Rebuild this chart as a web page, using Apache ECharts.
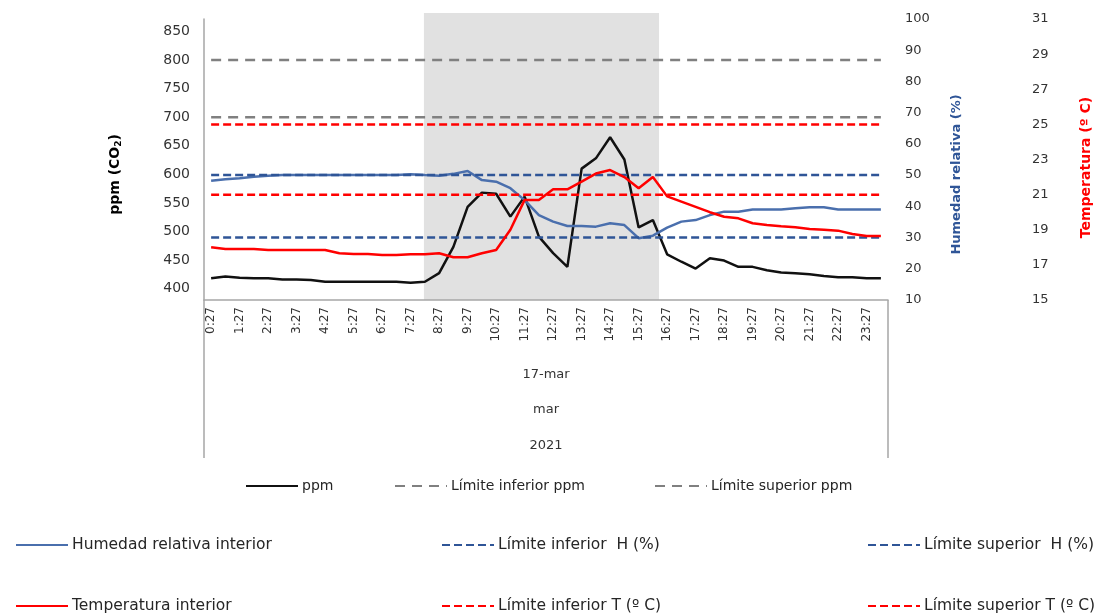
<!DOCTYPE html>
<html>
<head>
<meta charset="utf-8">
<script src="https://cdn.jsdelivr.net/npm/echarts@6/dist/echarts.min.js"></script>
<style>
  html, body { margin: 0; padding: 0; background: #ffffff; }
  #chart { width: 1105px; height: 613px; }
</style>
</head>
<body>
<div id="chart"></div>
<script>
// Registro del 17 de marzo de 2021, lecturas cada 30 minutos
const categorias = ['0:27','0:57','1:27','1:57','2:27','2:57','3:27','3:57','4:27','4:57','5:27','5:57',
  '6:27','6:57','7:27','7:57','8:27','8:57','9:27','9:57','10:27','10:57','11:27','11:57',
  '12:27','12:57','13:27','13:57','14:27','14:57','15:27','15:57','16:27','16:57','17:27','17:57',
  '18:27','18:57','19:27','19:57','20:27','20:57','21:27','21:57','22:27','22:57','23:27','23:57'];

const niveles = ['17-mar', 'mar', '2021'];

// CO2 (ppm)
const ppm = [418,421,419,418,418,416,416,415,412,412,412,412,412,412,410,412,
  427,473,543,568,566,526,561,491,462,438,610,628,665,626,507,520,
  460,447,435,453,449,438,438,432,428,427,425,422,420,420,418,418];

// Humedad relativa interior (%)
const humedad = [48.2,48.7,49.0,49.5,49.8,50.0,50.0,50.0,50.0,50.0,50.0,50.0,50.0,50.0,50.3,50.0,
  49.8,50.4,51.3,48.4,47.9,45.8,42.0,37.2,35.1,33.7,33.7,33.5,34.6,34.0,29.8,30.6,
  33.2,35.1,35.6,37.2,38.3,38.3,39.0,39.0,39.0,39.4,39.7,39.7,39.0,39.0,39.0,39.0];

// Temperatura interior (ºC)
const temperatura = [18.0,17.9,17.9,17.9,17.85,17.85,17.85,17.85,17.85,17.66,17.62,17.62,17.56,17.56,17.6,17.6,
  17.66,17.43,17.43,17.66,17.85,19.0,20.7,20.7,21.3,21.3,21.74,22.2,22.4,22.0,21.36,22.0,
  20.9,20.6,20.3,20.0,19.74,19.65,19.37,19.27,19.2,19.14,19.04,19.0,18.95,18.76,18.64,18.64];

// Límites de confort
const limitesPpm = [700, 800];
const limitesHumedad = [30, 50];
const limitesTemperatura = [21, 25];

// Franja horaria sombreada
const franja = ['7:55', '16:10'];

// Escalas de los ejes
const ejePpm = { min: 380, max: 872, paso: 10, etiqueta: 50, desde: 400, hasta: 850 };
const ejeHumedad = { min: 10, max: 100, paso: 10 };
const ejeTemperatura = { min: 15, max: 31, paso: 2 };

const fuente = 'DejaVu Sans';
const horas = s => { const p = s.split(':'); return Number(p[0]) + Number(p[1]) / 60; };
const constante = v => categorias.map(() => v);
const mediaFranja = 0.25;

const gris = '#A6A6A6';

function nivel(texto, margen, conCaja) {
  return {
    type: 'category', gridIndex: 0, position: 'bottom', data: [texto],
    boundaryGap: true,
    axisLine: { show: false },
    axisTick: { show: !!conCaja, length: 158, lineStyle: { color: gris, width: 1.5 } },
    axisLabel: { margin: margen, fontSize: 13, color: '#333', fontFamily: fuente },
    splitLine: { show: false }
  };
}

function linea(nombre, datos, eje, color, ancho, guiones) {
  return {
    name: nombre, type: 'line', xAxisIndex: 0, yAxisIndex: eje, data: datos,
    symbol: 'none', silent: true, z: 3,
    lineStyle: { color: color, width: ancho, type: guiones || 'solid' },
    itemStyle: { color: color }
  };
}

function leyenda(nombre, x, y, tam) {
  return {
    data: [nombre], left: x, top: y - 8, padding: 0, itemWidth: 52, itemHeight: 14, itemGap: 0,
    selectedMode: false,
    itemStyle: { opacity: 0 },
    textStyle: { fontSize: tam, color: '#262626', fontFamily: fuente, padding: [0, 0, 0, -1] }
  };
}

const chart = echarts.init(document.getElementById('chart'), null, { renderer: 'canvas' });

chart.setOption({
  animation: false,
  backgroundColor: '#ffffff',
  textStyle: { fontFamily: fuente },
  grid: [
    { left: 204, right: 217, top: 19, bottom: 313 },
    { left: 204, right: 217, top: 13, bottom: 313 }
  ],
  xAxis: [
    {
      type: 'category', gridIndex: 0, data: categorias, boundaryGap: true,
      axisLine: { lineStyle: { color: gris, width: 1.5 } },
      axisTick: { show: false },
      axisLabel: { interval: 1, rotate: 90, margin: 7, fontSize: 12, color: '#333', fontFamily: fuente },
      splitLine: { show: false }
    },
    nivel(niveles[0], 68),
    nivel(niveles[1], 103),
    nivel(niveles[2], 139, true),
    {
      type: 'value', gridIndex: 1, show: false,
      min: horas(categorias[0]) - mediaFranja,
      max: horas(categorias[categorias.length - 1]) + mediaFranja
    }
  ],
  yAxis: [
    {
      type: 'value', gridIndex: 0, position: 'left',
      min: ejePpm.min, max: ejePpm.max, interval: ejePpm.paso,
      axisLine: { show: true, lineStyle: { color: gris, width: 1.5 } },
      axisTick: { show: false }, splitLine: { show: false },
      axisLabel: {
        fontSize: 14, color: '#333', margin: 14, fontFamily: fuente,
        formatter: v => (v % ejePpm.etiqueta === 0 && v >= ejePpm.desde && v <= ejePpm.hasta) ? String(v) : ''
      },
      name: 'ppm (CO{sub|2})', nameLocation: 'middle', nameGap: 81,
      nameTextStyle: {
        color: '#000', fontWeight: 'bold', fontSize: 14, fontFamily: fuente, padding: [0, 30, 0, 0],
        rich: { sub: { fontSize: 9, fontWeight: 'bold', color: '#000', fontFamily: fuente, verticalAlign: 'bottom', padding: [6, 0, 0, 0] } }
      }
    },
    {
      type: 'value', gridIndex: 0, position: 'right',
      min: ejeHumedad.min, max: ejeHumedad.max, interval: ejeHumedad.paso,
      axisLine: { show: false }, axisTick: { show: false }, splitLine: { show: false },
      axisLabel: { fontSize: 13, color: '#333', margin: 17, fontFamily: fuente },
      name: 'Humedad relativa (%)', nameLocation: 'middle', nameGap: 62,
      nameTextStyle: { color: '#2F5597', fontWeight: 'bold', fontSize: 13, fontFamily: fuente, padding: [0, 30, 0, 0] }
    },
    {
      type: 'value', gridIndex: 0, position: 'right', offset: 127,
      min: ejeTemperatura.min, max: ejeTemperatura.max, interval: ejeTemperatura.paso,
      axisLine: { show: false }, axisTick: { show: false }, splitLine: { show: false },
      axisLabel: { fontSize: 13, color: '#333', margin: 17, fontFamily: fuente },
      name: 'Temperatura (º C)', nameLocation: 'middle', nameGap: 64,
      nameTextStyle: { color: '#FF0000', fontWeight: 'bold', fontSize: 14, fontFamily: fuente, padding: [0, 16, 0, 0] }
    },
    { type: 'value', gridIndex: 1, min: 0, max: 1, show: false }
  ],
  legend: [
    leyenda('ppm', 245, 487, 14),
    leyenda('Límite inferior ppm', 394, 487, 14),
    leyenda('Límite superior ppm', 654, 487, 14),
    leyenda('Humedad relativa interior', 15, 545, 15.5),
    leyenda('Límite inferior  H (%)', 441, 545, 15.5),
    leyenda('Límite superior  H (%)', 867, 545, 15.5),
    leyenda('Temperatura interior', 15, 606, 15.5),
    leyenda('Límite inferior T (º C)', 441, 606, 15.5),
    leyenda('Límite superior T (º C)', 867, 606, 15.5)
  ],
  series: [
    {
      name: 'franja', type: 'line', xAxisIndex: 4, yAxisIndex: 3,
      data: [[horas(franja[0]), 1], [horas(franja[1]), 1]],
      symbol: 'none', silent: true, z: 0,
      lineStyle: { width: 0, color: '#E1E1E1' },
      areaStyle: { color: '#E1E1E1', opacity: 1 }
    },
    linea('ppm', ppm, 0, '#111111', 2.5),
    linea('Límite inferior ppm', constante(limitesPpm[0]), 0, '#808080', 2.5, [10, 7]),
    linea('Límite superior ppm', constante(limitesPpm[1]), 0, '#808080', 2.5, [10, 7]),
    linea('Humedad relativa interior', humedad, 1, '#4A6FAD', 2.5),
    linea('Límite inferior  H (%)', constante(limitesHumedad[0]), 1, '#2F5597', 2.5, [8, 4]),
    linea('Límite superior  H (%)', constante(limitesHumedad[1]), 1, '#2F5597', 2.5, [8, 4]),
    linea('Temperatura interior', temperatura, 2, '#FF0000', 2.5),
    linea('Límite inferior T (º C)', constante(limitesTemperatura[0]), 2, '#FF0000', 2.5, [8, 4]),
    linea('Límite superior T (º C)', constante(limitesTemperatura[1]), 2, '#FF0000', 2.5, [8, 4])
  ]
});
</script>
</body>
</html>
